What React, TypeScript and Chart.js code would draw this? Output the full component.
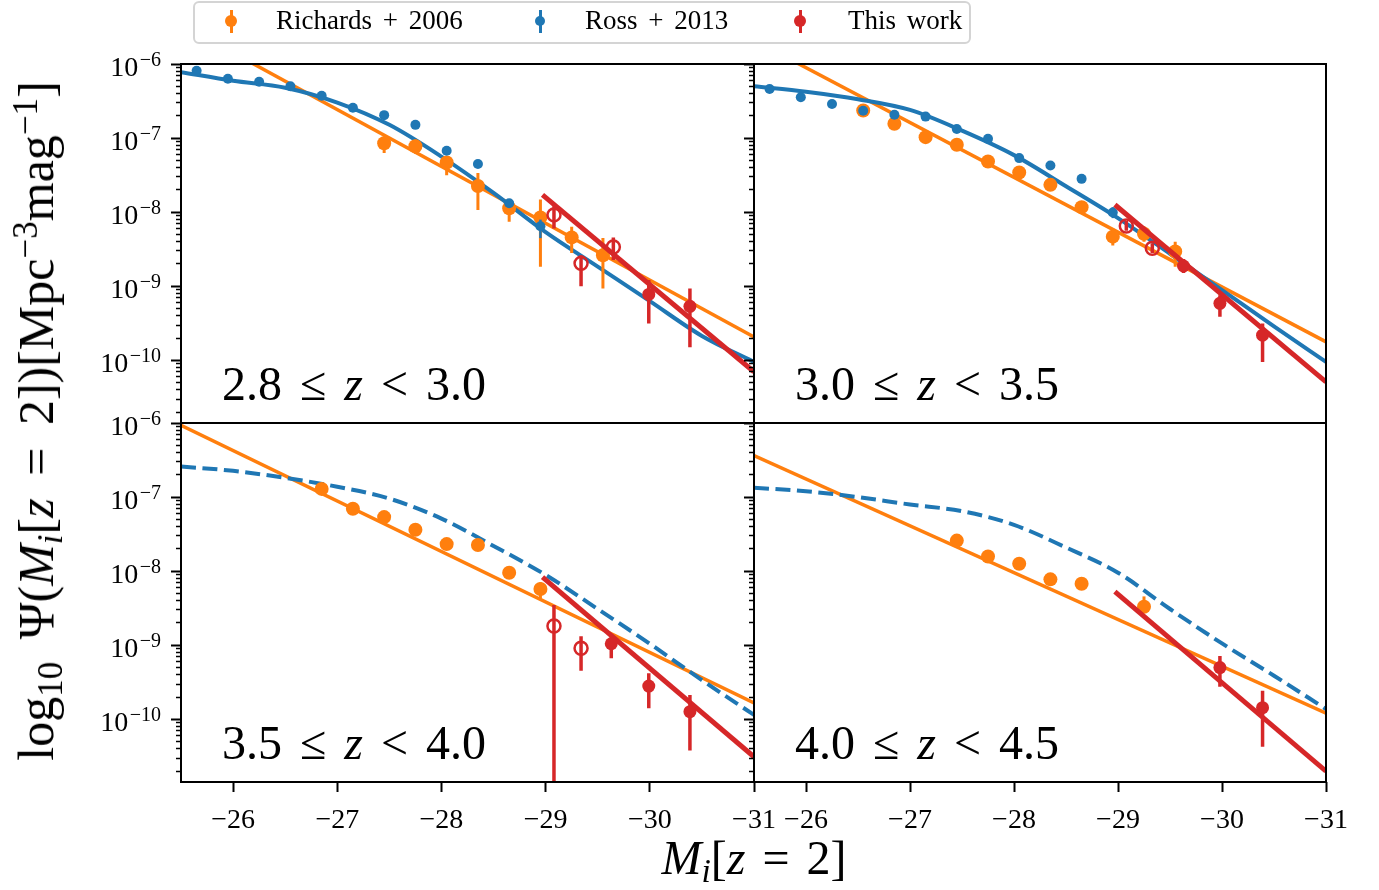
import React, { useEffect, useRef } from 'react';
import { Chart, registerables } from 'chart.js';

Chart.register(...registerables);

const ORANGE = '#ff7f0e';
const BLUE = '#1f77b4';
const RED = '#d62728';
const FONT = "'Liberation Serif', 'DejaVu Serif', serif";
const PAGE_W = 1379;
const PAGE_H = 890;

// ---- axes ----
const xLimBright = -31;
const xLimFaint = -25.5;
const yLimLow = 1.43e-11;
const yLimHigh = 1e-6;
const xTickValues = [-26, -27, -28, -29, -30, -31];
const yDecades = [-11, -10, -9, -8, -7, -6];
const ySignificands = [1, 2, 3, 4, 5, 6, 7, 8, 9];

// ---- panel 1: 2.8 <= z < 3.0 ----
const p1Range = ['2.8', '3.0'];
const p1RichM = [-27.45, -27.75, -28.05, -28.35, -28.65, -28.95, -29.25, -29.55];
const p1RichPhi = [8.51e-8, 7.76e-8, 4.68e-8, 2.26e-8, 1.13e-8, 8.51e-9, 4.57e-9, 2.63e-9];
const p1RichLo = [6.31e-8, 6.17e-8, 3.16e-8, 1.07e-8, 7.41e-9, 1.84e-9, 2.82e-9, 9.33e-10];
const p1RichHi = [1.05e-7, 9.55e-8, 5.62e-8, 3.39e-8, 1.38e-8, 1.48e-8, 6.38e-9, 4.47e-9];
const p1RossM = [-25.65, -25.95, -26.25, -26.55, -26.85, -27.15, -27.45, -27.75, -28.05, -28.35, -28.65, -28.95];
const p1RossPhi = [8.13e-7, 6.31e-7, 5.75e-7, 5.01e-7, 3.72e-7, 2.57e-7, 2.04e-7, 1.51e-7, 6.76e-8, 4.47e-8, 1.32e-8, 6.46e-9];
const p1RossLo = [null, null, null, null, null, null, null, null, null, null, null, 4.47e-9];
const p1RossHi = [null, null, null, null, null, null, null, null, null, null, null, 7.94e-9];
const p1RossFitM = [-25.5, -26.0, -26.5, -27.0, -27.5, -28.0, -28.5, -29.0, -29.5, -30.0, -30.5, -31.0];
const p1RossFitPhi = [7.76e-7, 5.94e-7, 4.79e-7, 3.02e-7, 1.51e-7, 5.62e-8, 1.82e-8, 5.37e-9, 1.84e-9, 6.31e-10, 2.14e-10, 9.55e-11];
const p1RichFitM = [-25.5, -31.0];
const p1RichFitPhi = [3.43e-6, 2.07e-10];
const p1RedFitM = [-28.97, -31.0];
const p1RedFitPhi = [1.71e-8, 7.01e-11];
const p1RedM = [-29.08, -29.34, -29.65, -29.99, -30.385];
const p1RedPhi = [9.2e-9, 2.04e-9, 3.39e-9, 7.76e-10, 5.37e-10];
const p1RedLo = [6.03e-9, 1.0e-9, 2.26e-9, 3.16e-10, 1.51e-10];
const p1RedHi = [1.2e-8, 2.63e-9, 4.57e-9, 1.22e-9, 9.33e-10];
const p1RedOpen = [true, true, true, false, false];

// ---- panel 2: 3.0 <= z < 3.5 ----
const p2Range = ['3.0', '3.5'];
const p2RichM = [-26.55, -26.85, -27.15, -27.45, -27.75, -28.05, -28.35, -28.65, -28.95, -29.25, -29.55];
const p2RichPhi = [2.36e-7, 1.56e-7, 1.03e-7, 8.13e-8, 4.83e-8, 3.43e-8, 2.34e-8, 1.17e-8, 4.68e-9, 5.13e-9, 2.95e-9];
const p2RichLo = [null, null, null, null, null, null, null, null, 3.55e-9, 3.98e-9, 1.84e-9];
const p2RichHi = [null, null, null, null, null, null, null, null, 6.03e-9, 6.46e-9, 3.98e-9];
const p2RossM = [-25.65, -25.95, -26.25, -26.55, -26.85, -27.15, -27.45, -27.75, -28.05, -28.35, -28.65, -28.95];
const p2RossPhi = [4.59e-7, 3.55e-7, 2.88e-7, 2.34e-7, 2.07e-7, 1.95e-7, 1.33e-7, 9.77e-8, 5.37e-8, 4.27e-8, 2.82e-8, 9.89e-9];
const p2RossLo = [null, null, null, null, null, null, null, null, null, null, null, 8.32e-9];
const p2RossHi = [null, null, null, null, null, null, null, null, null, null, null, 1.17e-8];
const p2RossFitM = [-25.5, -26.0, -26.5, -27.0, -27.5, -28.0, -28.5, -29.0, -29.5, -30.0, -30.5, -31.0];
const p2RossFitPhi = [5.01e-7, 4.22e-7, 3.35e-7, 2.4e-7, 1.26e-7, 5.89e-8, 2.24e-8, 8.32e-9, 2.75e-9, 8.91e-10, 2.88e-10, 9.55e-11];
const p2RichFitM = [-25.5, -31.0];
const p2RichFitPhi = [2.09e-6, 1.78e-10];
const p2RedFitM = [-28.97, -31.0];
const p2RedFitPhi = [1.26e-8, 5.13e-11];
const p2RedM = [-29.08, -29.33, -29.63, -29.98, -30.39];
const p2RedPhi = [6.53e-9, 3.27e-9, 1.88e-9, 5.89e-10, 2.19e-10];
const p2RedLo = [5.62e-9, 2.82e-9, 1.51e-9, 3.89e-10, 9.55e-11];
const p2RedHi = [7.59e-9, 3.8e-9, 2.34e-9, 7.59e-10, 3.16e-10];
const p2RedOpen = [true, true, false, false, false];

// ---- panel 3: 3.5 <= z < 4.0 ----
const p3Range = ['3.5', '4.0'];
const p3RichM = [-26.85, -27.15, -27.45, -27.75, -28.05, -28.35, -28.65, -28.95];
const p3RichPhi = [1.29e-7, 6.95e-8, 5.37e-8, 3.63e-8, 2.32e-8, 2.26e-8, 9.55e-9, 5.75e-9];
const p3RichLo = [null, null, null, null, null, null, null, 4.27e-9];
const p3RichHi = [null, null, null, null, null, null, null, 7.08e-9];
const p3RossFitM = [-25.5, -26.0, -26.5, -27.0, -27.5, -28.0, -28.5, -29.0, -29.5, -30.0, -30.5, -31.0];
const p3RossFitPhi = [2.59e-7, 2.26e-7, 1.82e-7, 1.38e-7, 9.55e-8, 5.13e-8, 2.19e-8, 8.91e-9, 3.09e-9, 1.05e-9, 3.39e-10, 1.15e-10];
const p3RichFitM = [-25.5, -31.0];
const p3RichFitPhi = [9.33e-7, 1.67e-10];
const p3RedFitM = [-28.97, -31.0];
const p3RedFitPhi = [8.32e-9, 3.13e-11];
const p3RedM = [-29.08, -29.34, -29.63, -29.99, -30.385];
const p3RedPhi = [1.82e-9, 9.12e-10, 1.05e-9, 2.82e-10, 1.27e-10];
const p3RedLo = [1e-12, 4.54e-10, 6.67e-10, 1.41e-10, 3.8e-11];
const p3RedHi = [3.51e-9, 1.32e-9, 1.32e-9, 4.19e-10, 2.14e-10];
const p3RedOpen = [true, true, false, false, false];

// ---- panel 4: 4.0 <= z < 4.5 ----
const p4Range = ['4.0', '4.5'];
const p4RichM = [-27.45, -27.75, -28.05, -28.35, -28.65, -29.25];
const p4RichPhi = [2.59e-8, 1.58e-8, 1.26e-8, 7.76e-9, 6.76e-9, 3.31e-9];
const p4RichLo = [null, null, null, 6.17e-9, 5.13e-9, 2.82e-9];
const p4RichHi = [null, null, null, null, null, 4.57e-9];
const p4RossFitM = [-25.5, -26.0, -26.5, -27.0, -27.5, -28.0, -28.5, -29.0, -29.5, -30.0, -30.5, -31.0];
const p4RossFitPhi = [1.34e-7, 1.2e-7, 1.0e-7, 7.94e-8, 6.46e-8, 4.22e-8, 2.09e-8, 9.55e-9, 3.09e-9, 1.06e-9, 3.89e-10, 1.38e-10];
const p4RichFitM = [-25.5, -31.0];
const p4RichFitPhi = [3.63e-7, 1.21e-10];
const p4RedFitM = [-28.97, -31.0];
const p4RedFitPhi = [5.3e-9, 2.0e-11];
const p4RedM = [-29.98, -30.39];
const p4RedPhi = [5.01e-10, 1.44e-10];
const p4RedLo = [2.75e-10, 4.27e-11];
const p4RedHi = [7.16e-10, 2.43e-10];
const p4RedOpen = [false, false];

type Num = number | null;
type Panel = {
  range: string[];
  box: { left: number; top: number; right: number; bottom: number };
  yLabels: boolean;
  xLabels: boolean;
  richM: number[]; richPhi: number[]; richLo: Num[]; richHi: Num[];
  rossM?: number[]; rossPhi?: number[]; rossLo?: Num[]; rossHi?: Num[];
  rossFitM: number[]; rossFitPhi: number[]; rossFitDashed: boolean;
  richFitM: number[]; richFitPhi: number[];
  redFitM: number[]; redFitPhi: number[];
  redM: number[]; redPhi: number[]; redLo: Num[]; redHi: Num[]; redOpen: boolean[];
};

const panels: Panel[] = [
  {
    range: p1Range, box: { left: 181, top: 64, right: 754, bottom: 423 }, yLabels: true, xLabels: false,
    richM: p1RichM, richPhi: p1RichPhi, richLo: p1RichLo, richHi: p1RichHi,
    rossM: p1RossM, rossPhi: p1RossPhi, rossLo: p1RossLo, rossHi: p1RossHi,
    rossFitM: p1RossFitM, rossFitPhi: p1RossFitPhi, rossFitDashed: false,
    richFitM: p1RichFitM, richFitPhi: p1RichFitPhi, redFitM: p1RedFitM, redFitPhi: p1RedFitPhi,
    redM: p1RedM, redPhi: p1RedPhi, redLo: p1RedLo, redHi: p1RedHi, redOpen: p1RedOpen,
  },
  {
    range: p2Range, box: { left: 754, top: 64, right: 1326, bottom: 423 }, yLabels: false, xLabels: false,
    richM: p2RichM, richPhi: p2RichPhi, richLo: p2RichLo, richHi: p2RichHi,
    rossM: p2RossM, rossPhi: p2RossPhi, rossLo: p2RossLo, rossHi: p2RossHi,
    rossFitM: p2RossFitM, rossFitPhi: p2RossFitPhi, rossFitDashed: false,
    richFitM: p2RichFitM, richFitPhi: p2RichFitPhi, redFitM: p2RedFitM, redFitPhi: p2RedFitPhi,
    redM: p2RedM, redPhi: p2RedPhi, redLo: p2RedLo, redHi: p2RedHi, redOpen: p2RedOpen,
  },
  {
    range: p3Range, box: { left: 181, top: 423, right: 754, bottom: 782 }, yLabels: true, xLabels: true,
    richM: p3RichM, richPhi: p3RichPhi, richLo: p3RichLo, richHi: p3RichHi,
    rossFitM: p3RossFitM, rossFitPhi: p3RossFitPhi, rossFitDashed: true,
    richFitM: p3RichFitM, richFitPhi: p3RichFitPhi, redFitM: p3RedFitM, redFitPhi: p3RedFitPhi,
    redM: p3RedM, redPhi: p3RedPhi, redLo: p3RedLo, redHi: p3RedHi, redOpen: p3RedOpen,
  },
  {
    range: p4Range, box: { left: 754, top: 423, right: 1326, bottom: 782 }, yLabels: false, xLabels: true,
    richM: p4RichM, richPhi: p4RichPhi, richLo: p4RichLo, richHi: p4RichHi,
    rossFitM: p4RossFitM, rossFitPhi: p4RossFitPhi, rossFitDashed: true,
    richFitM: p4RichFitM, richFitPhi: p4RichFitPhi, redFitM: p4RedFitM, redFitPhi: p4RedFitPhi,
    redM: p4RedM, redPhi: p4RedPhi, redLo: p4RedLo, redHi: p4RedHi, redOpen: p4RedOpen,
  },
];

const yTickValues: number[] = [];
yDecades.forEach((e) => ySignificands.forEach((s) => {
  const v = s * Math.pow(10, e);
  if (v >= yLimLow * 0.999999 && v <= yLimHigh * 1.000001) yTickValues.push(v);
}));

const isMajor = (v: number) => Math.abs(Math.log10(v) - Math.round(Math.log10(v))) < 1e-6;

const zip = (xs: number[], ys: number[]) => xs.map((x, i) => ({ x, y: ys[i] }));

function lineDs(xs: number[], ys: number[], color: string, width: number, order: number, dash?: number[], smooth?: boolean) {
  return {
    data: zip(xs, ys), borderColor: color, borderWidth: width, pointRadius: 0, fill: false,
    borderDash: dash || [], cubicInterpolationMode: smooth ? 'monotone' : 'default', order, clip: 0,
  };
}
function errDs(xs: number[], lo: Num[], hi: Num[], color: string, width: number, order: number) {
  const data: any[] = [];
  xs.forEach((x, i) => {
    if (lo[i] == null && hi[i] == null) return;
    data.push({ x, y: lo[i] }, { x, y: hi[i] }, { x, y: null });
  });
  return { data, borderColor: color, borderWidth: width, pointRadius: 0, spanGaps: false, fill: false, order, clip: 0 };
}
function pointDs(xs: number[], ys: number[], color: string, r: number, order: number, open?: boolean[]) {
  return {
    data: zip(xs, ys), showLine: false, pointRadius: r, pointHoverRadius: r,
    pointBackgroundColor: open ? open.map((o) => (o ? 'rgba(0,0,0,0)' : color)) : color,
    pointBorderColor: color,
    pointBorderWidth: open ? open.map((o) => (o ? 2.5 : 0)) : 0,
    borderColor: color, order, clip: 0,
  };
}

const framePlugin = {
  id: 'frame',
  afterDatasetsDraw(chart: any) {
    const { ctx, chartArea } = chart;
    ctx.save();
    ctx.strokeStyle = '#000';
    ctx.lineWidth = 2;
    ctx.strokeRect(chartArea.left, chartArea.top, chartArea.right - chartArea.left, chartArea.bottom - chartArea.top);
    ctx.restore();
  },
};

// draws "10" with a raised exponent at each major tick of the y scale
function makePowLabelPlugin(enabled: boolean) {
  return {
    id: 'powLabels',
    afterDraw(chart: any) {
      if (!enabled) return;
      const scale = chart.scales.y;
      const ctx = chart.ctx;
      const right = chart.chartArea.left - 20;
      ctx.save();
      ctx.fillStyle = '#000';
      ctx.textAlign = 'left';
      ctx.textBaseline = 'alphabetic';
      scale.ticks.forEach((t: any) => {
        if (!isMajor(t.value)) return;
        const y = scale.getPixelForValue(t.value);
        const exp = String(Math.round(Math.log10(t.value))).replace('-', '−');
        ctx.font = `20px ${FONT}`;
        const wSup = ctx.measureText(exp).width;
        const supX = right - wSup;
        ctx.fillText(exp, supX, y + 1.5);
        ctx.font = `28px ${FONT}`;
        const w10 = ctx.measureText('10').width;
        ctx.fillText('10', supX - 1.5 - w10, y + 11.5);
      });
      ctx.restore();
    },
  };
}

function buildConfig(p: Panel): any {
  const datasets: any[] = [];
  datasets.push(lineDs(p.richFitM, p.richFitPhi, ORANGE, 3.5, 9));
  datasets.push(lineDs(p.rossFitM, p.rossFitPhi, BLUE, 4, 8, p.rossFitDashed ? [15, 6.5] : undefined, true));
  datasets.push(errDs(p.richM, p.richLo, p.richHi, ORANGE, 3, 7));
  datasets.push(pointDs(p.richM, p.richPhi, ORANGE, 7, 6));
  if (p.rossM && p.rossPhi && p.rossLo && p.rossHi) {
    datasets.push(errDs(p.rossM, p.rossLo, p.rossHi, BLUE, 2.5, 5));
    datasets.push(pointDs(p.rossM, p.rossPhi, BLUE, 5, 4));
  }
  datasets.push(lineDs(p.redFitM, p.redFitPhi, RED, 5, 3));
  datasets.push(errDs(p.redM, p.redLo, p.redHi, RED, 3.5, 2));
  datasets.push(pointDs(p.redM, p.redPhi, RED, 6.5, 1, p.redOpen));

  const yW = p.yLabels ? 110 : 0;
  const xH = p.xLabels ? 60 : 0;
  const zeroPad = (s: any) => { s.paddingLeft = 0; s.paddingRight = 0; s.paddingTop = 0; s.paddingBottom = 0; };

  return {
    type: 'line',
    data: { datasets },
    plugins: [framePlugin, makePowLabelPlugin(p.yLabels)],
    options: {
      animation: false,
      responsive: false,
      devicePixelRatio: 1,
      events: [],
      layout: {
        autoPadding: false,
        padding: { left: p.box.left - yW, top: p.box.top, right: PAGE_W - p.box.right, bottom: PAGE_H - p.box.bottom - xH },
      },
      plugins: { legend: { display: false }, tooltip: { enabled: false }, title: { display: false } },
      scales: {
        x: {
          type: 'linear', min: xLimBright, max: xLimFaint, reverse: true,
          display: p.xLabels,
          afterBuildTicks: (s: any) => { s.ticks = xTickValues.map((v) => ({ value: v })); },
          afterFit: (s: any) => { s.height = xH; zeroPad(s); },
          grid: { display: true, drawOnChartArea: false, drawTicks: true, tickLength: 10, tickWidth: 2, tickColor: '#000' },
          border: { display: false },
          ticks: {
            autoSkip: false, maxRotation: 0, minRotation: 0, padding: 12, color: '#000',
            font: { family: FONT, size: 28 },
            callback: (v: any) => '−' + Math.abs(Number(v)),
          },
        },
        y: {
          type: 'logarithmic', min: yLimLow, max: yLimHigh,
          afterBuildTicks: (s: any) => { s.ticks = yTickValues.map((v) => ({ value: v, major: false })); },
          afterFit: (s: any) => { s.width = yW; zeroPad(s); },
          grid: {
            display: true, drawOnChartArea: false, drawTicks: true, tickLength: 10, tickColor: '#000',
            tickWidth: (c: any) => (c.tick && !isMajor(c.tick.value) ? 1.5 : 2),
            tickBorderDash: (c: any) => (c.tick && !isMajor(c.tick.value) ? [0, 5, 100] : []),
          },
          border: { display: false },
          ticks: { autoSkip: false, padding: 5, color: '#000', font: { family: FONT, size: 27 }, callback: () => '' },
        },
      },
    },
  };
}

function PanelChart({ panel }: { panel: Panel }) {
  const ref = useRef<HTMLCanvasElement>(null);
  useEffect(() => {
    const chart = new Chart(ref.current as HTMLCanvasElement, buildConfig(panel));
    return () => chart.destroy();
  }, [panel]);
  return <canvas ref={ref} width={PAGE_W} height={PAGE_H} style={{ position: 'absolute', left: 0, top: 0 }} />;
}

const subStyle: React.CSSProperties = { fontSize: '0.7em', verticalAlign: '-0.25em', lineHeight: 0 };
const supStyle: React.CSSProperties = { fontSize: '0.7em', verticalAlign: '0.45em', lineHeight: 0 };

function ZLabel({ left, baseline, range }: { left: number; baseline: number; range: string[] }) {
  const size = 48;
  return (
    <div style={{ position: 'absolute', left, top: baseline - 0.8375 * size, fontFamily: FONT, fontSize: size, lineHeight: 1, whiteSpace: 'pre', wordSpacing: 6 }}>
      {range[0]} ≤ <i>z</i> &lt; {range[1]}
    </div>
  );
}

function LegendItem({ cx, textLeft, color, r, label }: { cx: number; textLeft: number; color: string; r: number; label: string }) {
  return (
    <>
      <div style={{ position: 'absolute', left: cx - 1.5, top: 10, width: 3, height: 23, background: color }} />
      <div style={{ position: 'absolute', left: cx - r, top: 21 - r, width: 2 * r, height: 2 * r, borderRadius: '50%', background: color }} />
      <div style={{ position: 'absolute', left: textLeft, top: 30 - 0.8375 * 27, fontFamily: FONT, fontSize: 27, lineHeight: 1, whiteSpace: 'pre', wordSpacing: 4 }}>{label}</div>
    </>
  );
}

export default function App() {
  return (
    <div style={{ position: 'absolute', left: 0, top: 0, width: PAGE_W, height: PAGE_H, background: '#fff', overflow: 'hidden', color: '#000' }}>
      {panels.map((p, i) => <PanelChart key={i} panel={p} />)}
      {panels.map((p, i) => (
        <ZLabel key={'z' + i} left={p.box.left + 41} baseline={p.box.bottom - 23} range={p.range} />
      ))}
      <div style={{ position: 'absolute', left: 193, top: 1, width: 778, height: 43, boxSizing: 'border-box', border: '2px solid #d4d4d4', borderRadius: 6, background: 'rgba(255,255,255,0.85)' }} />
      <LegendItem cx={231} textLeft={276} color={ORANGE} r={6} label="Richards + 2006" />
      <LegendItem cx={540} textLeft={585} color={BLUE} r={5} label="Ross + 2013" />
      <LegendItem cx={800} textLeft={848} color={RED} r={6} label="This work" />
      <div style={{ position: 'absolute', left: 36, top: 421, transform: 'translate(-50%, -50%) rotate(-90deg)', fontFamily: FONT, fontSize: 50, lineHeight: 1, whiteSpace: 'pre', wordSpacing: 10 }}>
        log<span style={subStyle}>10</span> Ψ(<i>M</i><span style={subStyle}><i>i</i></span>[<i>z</i> = 2])[Mpc<span style={supStyle}>−3</span>mag<span style={supStyle}>−1</span>]
      </div>
      <div style={{ position: 'absolute', left: 754, top: 834, transform: 'translateX(-50%)', fontFamily: FONT, fontSize: 48, lineHeight: 1, whiteSpace: 'pre', wordSpacing: 5 }}>
        <i>M</i><span style={subStyle}><i>i</i></span>[<i>z</i> = 2]
      </div>
    </div>
  );
}
